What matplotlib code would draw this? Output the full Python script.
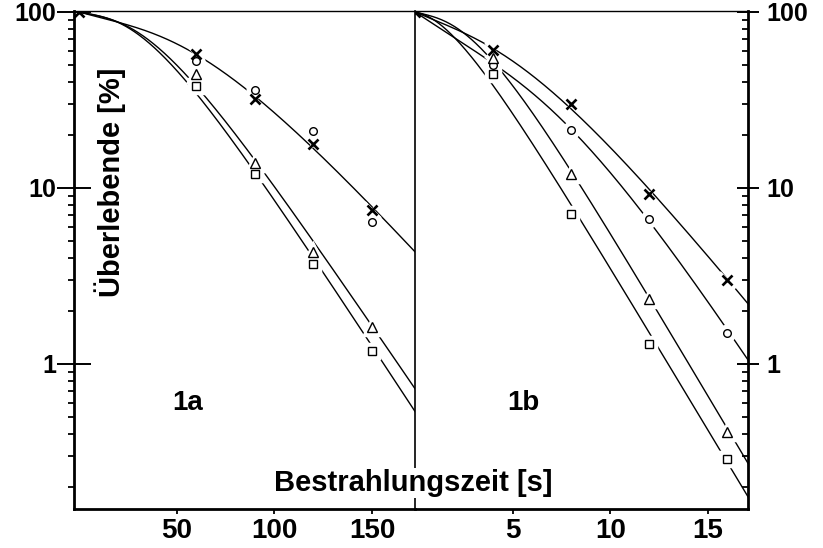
import numpy as np
import matplotlib
matplotlib.use("Agg")
import matplotlib.pyplot as plt
from matplotlib.ticker import FixedLocator, LogLocator, NullFormatter, FixedFormatter

plt.rcParams['font.family'] = ['Liberation Sans', 'DejaVu Sans']
plt.rcParams['font.weight'] = 'bold'

# ---------------- data (survival in %) ----------------
# Panel 1a : irradiation time in s
t_a = [60, 90, 120, 150]
a_cross = [58, 32, 17.8, 7.5]
a_circle = [53, 36, 21, 6.4]
a_triangle = [44.5, 13.8, 4.3, 1.62]
a_square = [38, 12, 3.7, 1.18]

# Panel 1b : irradiation time in s
t_b = [4, 8, 12, 16]
b_cross = [60.5, 30, 9.2, 3.0]
b_circle = [50, 21.4, 6.7, 1.5]
b_triangle = [55, 12, 2.35, 0.41]
b_square = [44.6, 7.1, 1.3, 0.29]

# value of each fitted curve where it leaves the panel
end_t_a = 172
end_a_cross, end_a_triangle, end_a_square = 4.4, 0.77, 0.58
end_t_b = 17.05
end_b_cross, end_b_circle, end_b_triangle, end_b_square = 2.26, 1.07, 0.278, 0.186

start_t = 0
start_s = 100

xticks_a = [50, 100, 150]
xticks_b = [5, 10, 15]
yticks = [1, 10, 100]


def fit_curve(t, s, t_end, s_end, tmax):
    """Survival fit S = 100*exp(-k t)*(1-(1-exp(-t/D))^n), grid least squares in log."""
    t = np.asarray(list(t) + [t_end], float)
    y = np.log(np.asarray(list(s) + [s_end], float) / 100.0)
    T = t.max()
    avg = -y[-1] / T
    k = (np.linspace(0.15, 0.65, 41) * avg)[:, None, None, None]
    D = (np.linspace(0.03, 1.5, 150) * T)[None, :, None, None]
    n = np.linspace(1.0, 10.0, 120)[None, None, :, None]
    tt4 = t[None, None, None, :]
    core = 1 - (1 - np.exp(-tt4 / D)) ** n
    pred = -k * tt4 + np.log(np.clip(core, 1e-300, None))
    err = ((pred - y) ** 2).sum(axis=3)
    i, j, m = np.unravel_index(np.argmin(err), err.shape)
    kb, Db, nb = k[i, 0, 0, 0], D[0, j, 0, 0], n[0, 0, m, 0]
    tt = np.linspace(0, tmax, 400)
    return tt, start_s * np.exp(-kb * tt) * (1 - (1 - np.exp(-tt / Db)) ** nb)


W, H = 823, 548
fig = plt.figure(figsize=(W / 100, H / 100), dpi=100)
bot = 1 - 509 / H
top = 1 - 11 / H
ax1 = fig.add_axes([74 / W, bot, (415 - 74) / W, top - bot])
ax2 = fig.add_axes([415 / W, bot, (748 - 415) / W, top - bot])
ax2.patch.set_visible(False)

ylo, yhi = 0.15, 101.3

marker_specs = {
    'x': dict(marker='x', ms=7, mew=1.9),
    'o': dict(marker='o', ms=5.5, mew=1.0),
    '^': dict(marker='^', ms=6.5, mew=1.0),
    's': dict(marker='s', ms=5.5, mew=1.0),
}


def draw_series(ax, t, s, m, end=None, tmax=None):
    if end is not None:
        tt, ss = fit_curve(t, s, end[0], end[1], tmax)
        ax.plot(tt, ss, color='black', lw=1.0, zorder=2)
    spec = marker_specs[m]
    # white halo to break the curve around the symbol
    ax.plot(t, s, ls='none', marker=spec['marker'], ms=spec['ms'] + 5,
            mfc='white', mec='white', mew=2.5, zorder=3)
    ax.plot(t, s, ls='none', color='black', mfc='white', mec='black', zorder=4, **spec)


# panel 1a
draw_series(ax1, t_a, a_cross, 'x', (end_t_a, end_a_cross), 175)
draw_series(ax1, t_a, a_circle, 'o')
draw_series(ax1, t_a, a_triangle, '^', (end_t_a, end_a_triangle), 175)
draw_series(ax1, t_a, a_square, 's', (end_t_a, end_a_square), 175)
ax1.plot([start_t], [start_s], ls='none', color='black', zorder=4, **marker_specs['x'])

# panel 1b
draw_series(ax2, t_b, b_cross, 'x', (end_t_b, end_b_cross), 17.5)
draw_series(ax2, t_b, b_circle, 'o', (end_t_b, end_b_circle), 17.5)
draw_series(ax2, t_b, b_triangle, '^', (end_t_b, end_b_triangle), 17.5)
draw_series(ax2, t_b, b_square, 's', (end_t_b, end_b_square), 17.5)
ax2.plot([start_t], [start_s], ls='none', color='black', zorder=4, **marker_specs['x'])

for ax in (ax1, ax2):
    ax.set_yscale('log')
    ax.set_ylim(ylo, yhi)
    ax.tick_params(axis='x', which='major', direction='out', length=3.5, width=1.3,
                   labelsize=20, pad=3, top=False)
    ax.tick_params(axis='x', which='minor', bottom=False, top=False)
    ax.spines['top'].set_linewidth(1.0)
    ax.spines['bottom'].set_linewidth(2.0)

ax1.set_xlim(-2.5, 172)
ax2.set_xlim(0, 17.05)
ax1.xaxis.set_major_locator(FixedLocator(xticks_a))
ax2.xaxis.set_major_locator(FixedLocator(xticks_b))

# left axis
ax1.spines['left'].set_linewidth(2.0)
ax1.spines['right'].set_linewidth(1.2)
ax1.spines['right'].set_zorder(5)
ax1.yaxis.set_major_locator(FixedLocator(yticks))
ax1.yaxis.set_major_formatter(FixedFormatter([str(v) for v in yticks]))
ax1.yaxis.set_minor_locator(LogLocator(base=10, subs=np.arange(2, 10)))
ax1.yaxis.set_minor_formatter(NullFormatter())
ax1.tick_params(axis='y', which='major', direction='inout', length=24, width=1.4,
                labelsize=18, pad=1, left=True, right=False)
ax1.tick_params(axis='y', which='minor', direction='out', length=4.5, width=1.3,
                left=True, right=False)

# right axis
ax2.spines['left'].set_visible(False)
ax2.spines['right'].set_linewidth(2.0)
ax2.yaxis.tick_right()
ax2.yaxis.set_major_locator(FixedLocator(yticks))
ax2.yaxis.set_major_formatter(FixedFormatter([str(v) for v in yticks]))
ax2.yaxis.set_minor_locator(LogLocator(base=10, subs=np.arange(2, 10)))
ax2.yaxis.set_minor_formatter(NullFormatter())
ax2.tick_params(axis='y', which='major', direction='inout', length=16, width=1.4,
                labelsize=18, pad=5, left=False, right=True)
ax2.tick_params(axis='y', which='minor', direction='in', length=4, width=1.3,
                left=False, right=True)

ax1.text(0.334, 0.213, '1a', transform=ax1.transAxes, ha='center', va='center',
         fontsize=20, fontweight='bold')
ax2.text(0.324, 0.213, '1b', transform=ax2.transAxes, ha='center', va='center',
         fontsize=20, fontweight='bold')

fig.text(413 / W, 1 - 483 / H, 'Bestrahlungszeit [s]', ha='center', va='center',
         fontsize=21, fontweight='bold', zorder=10,
         bbox=dict(facecolor='white', edgecolor='none', pad=1))
fig.text(110 / W, 1 - 182 / H, 'Überlebende [%]', ha='center', va='center',
         rotation=90, fontsize=21, fontweight='bold', zorder=10)

fig.savefig('out.png', dpi=100)
